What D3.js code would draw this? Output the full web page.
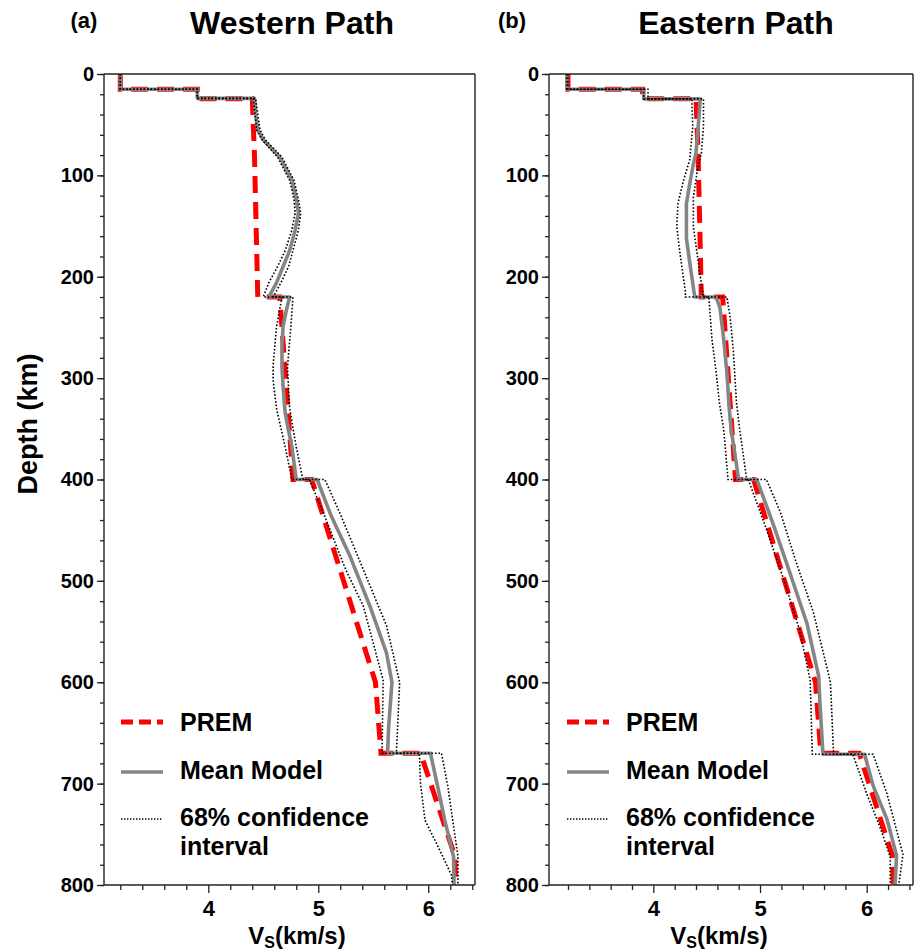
<!DOCTYPE html>
<html>
<head>
<meta charset="utf-8">
<script src="https://cdn.jsdelivr.net/npm/d3@7"></script>
<style>
  html, body { margin: 0; padding: 0; background: #fff; }
  svg text { font-family: "Liberation Sans", Arial, Helvetica, sans-serif; font-weight: bold; fill: #000; }
</style>
</head>
<body>
<svg id="chart" width="914" height="950"></svg>
<script>
// PREM reference shear-velocity profile (depth km, Vs km/s)
const premDepth = [0, 15, 15, 24.4, 24.4, 80, 220, 220, 400, 400, 600, 670, 670, 771, 800];
const premVs    = [3.2, 3.2, 3.9, 3.9, 4.40, 4.42, 4.45, 4.65, 4.77, 4.94, 5.52, 5.57, 5.93, 6.24, 6.25];

// Western path: mean model
const westMeanDepth = [0, 15, 15, 24, 24, 40, 55, 65, 82, 105, 124, 137, 154, 174, 190, 206, 220, 220, 233, 249, 269, 289, 308, 335, 368, 400, 400, 434, 476, 525, 571, 600, 644, 670, 670, 700, 736, 772, 800];
const westMeanVs    = [3.2, 3.2, 3.9, 3.9, 4.42, 4.43, 4.45, 4.50, 4.65, 4.76, 4.80, 4.82, 4.79, 4.74, 4.68, 4.62, 4.55, 4.74, 4.71, 4.68, 4.67, 4.67, 4.68, 4.70, 4.76, 4.80, 4.99, 5.11, 5.29, 5.47, 5.62, 5.67, 5.64, 5.63, 6.02, 6.08, 6.15, 6.23, 6.235];

// Western path: 68% confidence bounds
const westLowDepth = [0, 15, 15, 24, 24, 55, 65, 82, 105, 124, 137, 154, 174, 190, 206, 220, 220, 250, 287, 302, 330, 368, 400, 400, 434, 489, 525, 598, 670, 670, 700, 736, 760, 790, 800];
const westLowVs    = [3.2, 3.2, 3.9, 3.9, 4.41, 4.44, 4.49, 4.63, 4.74, 4.78, 4.79, 4.76, 4.70, 4.63, 4.55, 4.50, 4.67, 4.62, 4.59, 4.59, 4.62, 4.70, 4.76, 4.92, 5.05, 5.25, 5.41, 5.59, 5.58, 5.92, 5.93, 5.97, 6.08, 6.21, 6.22];
const westHighDepth = [0, 15, 15, 24, 24, 55, 65, 82, 105, 124, 137, 154, 174, 190, 206, 220, 220, 250, 290, 330, 368, 400, 400, 434, 489, 544, 600, 670, 670, 704, 772, 800];
const westHighVs    = [3.2, 3.2, 3.9, 3.9, 4.43, 4.47, 4.52, 4.67, 4.78, 4.82, 4.84, 4.82, 4.77, 4.73, 4.66, 4.59, 4.77, 4.75, 4.72, 4.74, 4.80, 4.86, 5.06, 5.20, 5.41, 5.62, 5.74, 5.71, 6.12, 6.18, 6.27, 6.27];

// Eastern path: mean model
const eastMeanDepth = [0, 15, 15, 24.5, 24.5, 52, 78, 89, 109, 128, 145, 162, 185, 214, 220, 220, 231, 262, 295, 328, 351, 400, 400, 443, 492, 542, 594, 617, 671, 671, 702, 735, 771, 800];
const eastMeanVs    = [3.19, 3.19, 3.91, 3.91, 4.44, 4.42, 4.40, 4.375, 4.34, 4.31, 4.31, 4.31, 4.34, 4.38, 4.39, 4.59, 4.625, 4.66, 4.69, 4.71, 4.73, 4.80, 4.97, 5.12, 5.28, 5.44, 5.55, 5.56, 5.59, 5.98, 6.06, 6.19, 6.28, 6.265];

// Eastern path: 68% confidence bounds
const eastLowDepth = [0, 15, 15, 24.5, 24.5, 52, 85, 106, 128, 151, 177, 214, 220, 220, 262, 295, 325, 351, 400, 400, 449, 498, 548, 598, 671, 671, 710, 743, 772, 800];
const eastLowVs    = [3.19, 3.19, 3.91, 3.91, 4.36, 4.37, 4.34, 4.28, 4.23, 4.22, 4.25, 4.30, 4.30, 4.52, 4.55, 4.59, 4.62, 4.66, 4.70, 4.89, 5.06, 5.22, 5.37, 5.47, 5.49, 5.87, 6.00, 6.125, 6.22, 6.22];
const eastHighDepth = [0, 15, 15, 24.5, 24.5, 52, 78, 97, 122, 151, 177, 207, 220, 220, 240, 273, 325, 351, 400, 400, 432, 482, 531, 591, 600, 671, 671, 710, 770, 800];
const eastHighVs    = [3.2, 3.2, 3.95, 3.95, 4.47, 4.47, 4.45, 4.41, 4.375, 4.375, 4.41, 4.45, 4.47, 4.69, 4.72, 4.75, 4.78, 4.81, 4.875, 5.06, 5.19, 5.34, 5.50, 5.64, 5.66, 5.69, 6.06, 6.19, 6.34, 6.30];

// Axis ticks and labels
const depthMajorTicks = [0, 100, 200, 300, 400, 500, 600, 700, 800];
const depthMinorTicks = d3.range(0, 801, 20);
const vsMajorTicks = [4, 5, 6];
const vsMinorTicks = [3.2, 3.4, 3.6, 3.8, 4.2, 4.4, 4.6, 4.8, 5.2, 5.4, 5.6, 5.8, 6.2, 6.4];
const legendLabels = ["PREM", "Mean Model", "68% confidence", "interval"];
const panelTitles = ["Western Path", "Eastern Path"];
const panelTags = ["(a)", "(b)"];

const zip = (ds, vs) => ds.map((d, i) => ({ depth: d, vs: vs[i] }));

const panels = [
  { tag: panelTags[0], title: panelTitles[0], left: 104, right: 475, vsDomain: [3.052, 6.425],
    titleX: 292, tagX: 84, xLabelX: 297, legendX: 121,
    mean: zip(westMeanDepth, westMeanVs), low: zip(westLowDepth, westLowVs), high: zip(westHighDepth, westHighVs) },
  { tag: panelTags[1], title: panelTitles[1], left: 549, right: 913, vsDomain: [3.022, 6.434],
    titleX: 736, tagX: 512, xLabelX: 719, legendX: 567,
    mean: zip(eastMeanDepth, eastMeanVs), low: zip(eastLowDepth, eastLowVs), high: zip(eastHighDepth, eastHighVs) }
];
const prem = zip(premDepth, premVs);

const plotTop = 74, plotBottom = 885;
const svg = d3.select("#chart");
const y = d3.scaleLinear().domain([0, 800]).range([plotTop, plotBottom]);

panels.forEach((p, pi) => {
  const x = d3.scaleLinear().domain(p.vsDomain).range([p.left, p.right]);
  const g = svg.append("g");
  const clipId = "clip" + pi;
  svg.append("clipPath").attr("id", clipId).append("rect")
    .attr("x", p.left).attr("y", plotTop - 3).attr("width", p.right - p.left).attr("height", plotBottom - plotTop + 3);

  const line = d3.line().x(d => x(d.vs)).y(d => y(d.depth));
  const plot = g.append("g").attr("clip-path", `url(#${clipId})`);

  plot.append("path").datum(prem).attr("d", line)
    .attr("fill", "none").attr("stroke", "#ff0000").attr("stroke-width", 5)
    .attr("stroke-dasharray", "17,9");
  plot.append("path").datum(p.mean).attr("d", line)
    .attr("fill", "none").attr("stroke", "#858585").attr("stroke-width", 3.6)
    .attr("stroke-linejoin", "round");
  [p.low, p.high].forEach(ci => {
    plot.append("path").datum(ci).attr("d", line)
      .attr("fill", "none").attr("stroke", "#000").attr("stroke-width", 1.6)
      .attr("stroke-dasharray", "1.6,1.9");
  });

  // frame
  const frame = g.append("g").attr("stroke", "#222").attr("stroke-width", 1.4);
  frame.append("line").attr("x1", p.left).attr("x2", p.right).attr("y1", plotTop).attr("y2", plotTop);
  frame.append("line").attr("x1", p.left).attr("x2", p.right).attr("y1", plotBottom).attr("y2", plotBottom);
  frame.append("line").attr("x1", p.left).attr("x2", p.left).attr("y1", plotTop).attr("y2", plotBottom);
  frame.append("line").attr("x1", p.right).attr("x2", p.right).attr("y1", plotTop).attr("y2", plotBottom);

  // depth axis
  const yMinor = g.append("g").attr("transform", `translate(${p.left},0)`)
    .call(d3.axisLeft(y).tickValues(depthMinorTicks).tickSize(4).tickFormat(""));
  const yMajor = g.append("g").attr("transform", `translate(${p.left},0)`)
    .call(d3.axisLeft(y).tickValues(depthMajorTicks).tickSize(7).tickPadding(3).tickFormat(d3.format("d")));
  // Vs axis
  const xMinor = g.append("g").attr("transform", `translate(0,${plotBottom})`)
    .call(d3.axisBottom(x).tickValues(vsMinorTicks).tickSize(5).tickFormat(""));
  const xMajor = g.append("g").attr("transform", `translate(0,${plotBottom})`)
    .call(d3.axisBottom(x).tickValues(vsMajorTicks).tickSize(8).tickPadding(7).tickFormat(d3.format("d")));

  [yMinor, yMajor, xMinor, xMajor].forEach(a => {
    a.select(".domain").remove();
    a.selectAll(".tick line").attr("stroke", "#222").attr("stroke-width", 1.3);
  });
  yMajor.selectAll(".tick text").attr("font-size", 20).attr("fill", "#000")
    .attr("font-family", "Liberation Sans, Arial, sans-serif").attr("font-weight", "bold");
  xMajor.selectAll(".tick text").attr("font-size", 22).attr("fill", "#000")
    .attr("font-family", "Liberation Sans, Arial, sans-serif").attr("font-weight", "bold");

  // titles
  g.append("text").attr("x", p.titleX).attr("y", 34).attr("text-anchor", "middle")
    .attr("font-size", 32).text(p.title);
  g.append("text").attr("x", p.tagX).attr("y", 28).attr("text-anchor", "middle")
    .attr("font-size", 22).text(p.tag);

  // x-axis label with subscript
  const xl = g.append("text").attr("x", p.xLabelX).attr("y", 944).attr("text-anchor", "middle")
    .attr("font-size", 24);
  xl.append("tspan").text("V");
  xl.append("tspan").attr("font-size", 16).attr("dy", 4).text("S");
  xl.append("tspan").attr("dy", -4).text("(km/s)");

  // legend
  const lx = p.legendX, lw = 42;
  const leg = g.append("g");
  leg.append("line").attr("x1", lx).attr("x2", lx + lw).attr("y1", 722).attr("y2", 722)
    .attr("stroke", "#ff0000").attr("stroke-width", 5).attr("stroke-dasharray", "12,6");
  leg.append("line").attr("x1", lx).attr("x2", lx + lw).attr("y1", 772).attr("y2", 772)
    .attr("stroke", "#858585").attr("stroke-width", 3.6);
  leg.append("line").attr("x1", lx).attr("x2", lx + lw).attr("y1", 819).attr("y2", 819)
    .attr("stroke", "#000").attr("stroke-width", 1.4).attr("stroke-dasharray", "1.4,1.6");
  const ty = [731, 779, 826, 855];
  legendLabels.forEach((t, i) => {
    leg.append("text").attr("x", lx + 59).attr("y", ty[i]).attr("font-size", 25).text(t);
  });
});

// shared depth label
svg.append("text").attr("transform", "translate(37,424) rotate(-90)")
  .attr("text-anchor", "middle").attr("font-size", 27).text("Depth (km)");
</script>
</body>
</html>
